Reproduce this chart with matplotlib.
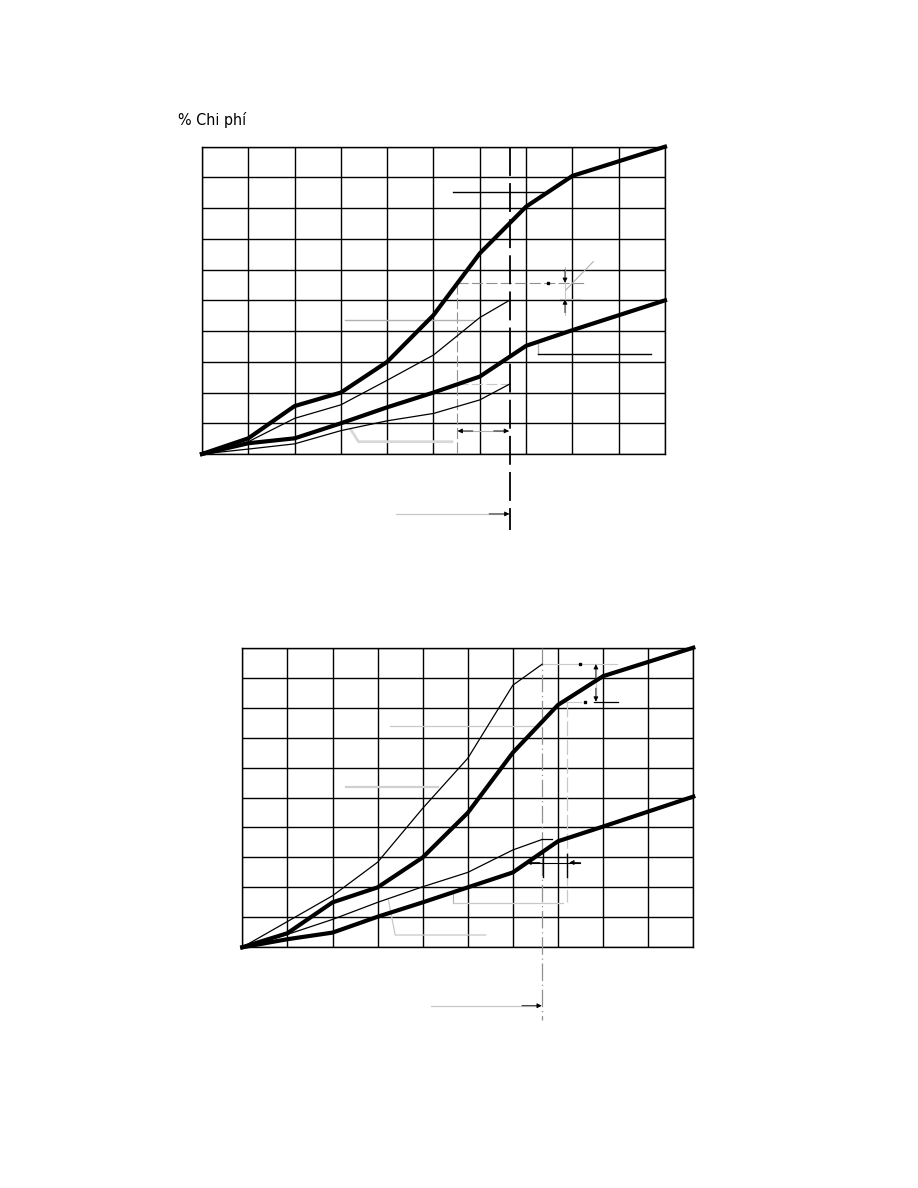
import matplotlib
matplotlib.use("Agg")
import matplotlib.pyplot as plt

# ---------------- data (grid units: 10 x 10 cells) ----------------
grid_ticks = list(range(11))

# top chart
top_thick_up_x = [0, 1, 2, 3, 4, 5, 6, 7, 8, 10]
top_thick_up_y = [0, 0.51, 1.56, 2.0, 3.0, 4.52, 6.53, 8.05, 9.05, 10.0]
top_thick_lo_x = [0, 1, 2, 3, 4, 5, 6, 7, 8, 10]
top_thick_lo_y = [0, 0.35, 0.51, 1.0, 1.52, 2.0, 2.52, 3.52, 4.03, 5.0]
top_thin_up_x = [0, 1, 2, 3, 4, 5, 6, 6.65]
top_thin_up_y = [0, 0.40, 1.16, 1.60, 2.40, 3.22, 4.44, 5.01]
top_thin_lo_x = [0, 1, 2, 3, 4, 5, 6, 6.65]
top_thin_lo_y = [0, 0.16, 0.33, 0.76, 1.08, 1.32, 1.76, 2.28]

# bottom chart
bot_thick_up_x = [0, 1, 2, 3, 4, 5, 6, 7, 8, 10]
bot_thick_up_y = [0, 0.47, 1.50, 2.0, 3.0, 4.49, 6.50, 8.09, 9.05, 10.0]
bot_thick_lo_x = [0, 1, 2, 3, 4, 5, 6, 7, 8, 10]
bot_thick_lo_y = [0, 0.27, 0.49, 1.02, 1.50, 2.0, 2.50, 3.54, 4.03, 5.03]
bot_thin_up_x = [0, 1, 2, 3, 4, 5, 6, 6.65]
bot_thin_up_y = [0, 0.86, 1.72, 2.84, 4.64, 6.31, 8.75, 9.45]
bot_thin_lo_x = [0, 1, 2, 3, 4, 5, 6, 6.65]
bot_thin_lo_y = [0, 0.43, 0.93, 1.50, 2.02, 2.50, 3.25, 3.60]

y_label = "% Chi phí"

# ---------------- figure ----------------
fig = plt.figure(figsize=(9.18, 11.88), dpi=100)

LG = "#b0b0b0"   # light gray for leaders
MG = "#909090"


def make_axes(rect):
    ax = fig.add_axes(rect)
    ax.set_xlim(0, 10)
    ax.set_ylim(0, 10)
    ax.set_xticks(grid_ticks)
    ax.set_yticks(grid_ticks)
    ax.tick_params(length=0, labelbottom=False, labelleft=False)
    ax.grid(True, color="black", lw=1.0)
    for s in ax.spines.values():
        s.set_color("black")
        s.set_linewidth(1.0)
    return ax


def line(ax, xs, ys, **kw):
    kw.setdefault("clip_on", False)
    ax.plot(xs, ys, **kw)


def head(ax, tip, frm):
    ax.annotate("", xy=tip, xytext=frm, annotation_clip=False,
                arrowprops=dict(arrowstyle="-|>", color="black", lw=0.6,
                                mutation_scale=7, shrinkA=0, shrinkB=0))


# ================= TOP CHART =================
ax1 = make_axes([202 / 918, 1 - 454 / 1188, 463 / 918, 307.3 / 1188])
ax1.plot(top_thick_up_x, top_thick_up_y, color="black", lw=3.0, zorder=5, clip_on=False)
ax1.plot(top_thick_lo_x, top_thick_lo_y, color="black", lw=3.0, zorder=5, clip_on=False)
ax1.plot(top_thin_up_x, top_thin_up_y, color="black", lw=0.9, zorder=5)
ax1.plot(top_thin_lo_x, top_thin_lo_y, color="black", lw=0.9, zorder=5)

# vertical dashed reference line
line(ax1, [6.65, 6.65], [10, -2.47], color="black", lw=1.3, dashes=(16, 4), zorder=4)
# gray dashed construction lines
line(ax1, [5.5, 5.5], [5.57, 0], color=MG, lw=0.8, dashes=(10, 3), zorder=3)
line(ax1, [5.5, 8.3], [5.57, 5.57], color=MG, lw=0.8, dashes=(10, 3), zorder=3)
line(ax1, [5.5, 6.65], [2.27, 2.27], color="#c8c8c8", lw=0.8, dashes=(10, 3), zorder=3)
# dimension arrow between the two verticals
line(ax1, [5.55, 6.6], [0.75, 0.75], color=LG, lw=0.8, zorder=3)
head(ax1, (5.52, 0.75), (5.85, 0.75))
head(ax1, (6.63, 0.75), (6.3, 0.75))
# leaders
line(ax1, [3.09, 5.9], [4.35, 4.35], color=LG, lw=1.0, zorder=3)
line(ax1, [5.43, 7.41], [8.52, 8.52], color="black", lw=1.0, zorder=3)
line(ax1, [7.26, 7.26], [3.58, 3.25], color=LG, lw=1.0, zorder=3)
line(ax1, [7.26, 9.69], [3.25, 3.25], color="black", lw=1.0, zorder=3)
line(ax1, [3.22, 3.38, 5.4], [0.78, 0.40, 0.40], color="#d8d8d8", lw=2.0, zorder=3)
# top-right small dimension
line(ax1, [7.73, 8.18], [5.03, 5.03], color=LG, lw=0.8, zorder=3)
line(ax1, [7.84, 7.84], [6.1, 4.52], color="#c8c8c8", lw=0.8, zorder=3)
head(ax1, (7.84, 5.57), (7.84, 6.0))
head(ax1, (7.84, 5.03), (7.84, 4.6))
line(ax1, [7.86, 8.45], [5.34, 6.26], color=LG, lw=0.8, zorder=3)
ax1.plot([7.48], [5.57], marker="s", ms=1.5, color="black", zorder=6)
# arrow below axis
line(ax1, [4.19, 6.55], [-1.95, -1.95], color="#c8c8c8", lw=0.9, zorder=3)
head(ax1, (6.64, -1.95), (6.2, -1.95))

fig.text(178 / 918, 1 - 125 / 1188, y_label, fontsize=11.5, fontstretch="condensed",
         family=["DejaVu Sans"], ha="left", va="baseline")

# ================= BOTTOM CHART =================
ax2 = make_axes([242.3 / 918, 1 - 947.3 / 1188, 451 / 918, 299.6 / 1188])
ax2.plot(bot_thick_up_x, bot_thick_up_y, color="black", lw=3.0, zorder=5, clip_on=False)
ax2.plot(bot_thick_lo_x, bot_thick_lo_y, color="black", lw=3.0, zorder=5, clip_on=False)
ax2.plot(bot_thin_up_x, bot_thin_up_y, color="black", lw=0.9, zorder=5)
ax2.plot(bot_thin_lo_x, bot_thin_lo_y, color="black", lw=0.9, zorder=5)

# vertical gray dash-dot reference line
line(ax2, [6.65, 6.65], [10, -2.42], color=MG, lw=0.9, dashes=(14, 3, 1, 3), zorder=3)
line(ax2, [7.19, 7.19], [8.2, 1.5], color="#c8c8c8", lw=0.9, dashes=(12, 3), zorder=3)
# leaders
line(ax2, [4.68, 4.68], [1.8, 1.49], color=LG, lw=0.8, zorder=3)
line(ax2, [4.68, 7.12], [1.49, 1.49], color="#c8c8c8", lw=0.9, zorder=3)
line(ax2, [3.27, 6.53], [7.39, 7.39], color="#c8c8c8", lw=0.9, zorder=3)
line(ax2, [2.31, 4.35], [5.36, 5.36], color="#d0d0d0", lw=1.6, zorder=3)
line(ax2, [3.24, 3.39, 5.4], [1.58, 0.41, 0.41], color="#c8c8c8", lw=0.9, zorder=3)
line(ax2, [6.65, 6.86], [3.6, 3.6], color="black", lw=0.9, zorder=5)
# top-right dimension
line(ax2, [6.65, 8.3], [9.45, 9.45], color="#c8c8c8", lw=0.8, zorder=3)
ax2.plot([7.49], [9.45], marker="s", ms=1.5, color="black", zorder=6)
line(ax2, [7.15, 7.5], [8.2, 8.2], color="#c8c8c8", lw=0.8, zorder=3)
ax2.plot([7.6], [8.2], marker="s", ms=1.5, color="black", zorder=6)
line(ax2, [7.8, 8.34], [8.2, 8.2], color="black", lw=0.9, zorder=3)
line(ax2, [7.84, 7.84], [9.4, 8.25], color="#c8c8c8", lw=0.9, zorder=3)
head(ax2, (7.84, 9.45), (7.84, 9.0))
head(ax2, (7.84, 8.2), (7.84, 8.65))
# small horizontal dimension
line(ax2, [6.67, 6.67], [3.14, 2.34], color="black", lw=1.0, zorder=4)
line(ax2, [7.19, 7.19], [3.1, 2.34], color="black", lw=1.0, zorder=4)
line(ax2, [6.3, 7.49], [2.83, 2.83], color="black", lw=0.8, zorder=4)
head(ax2, (6.3, 2.83), (6.6, 2.83))
head(ax2, (7.25, 2.83), (7.5, 2.83))
# arrow below axis
line(ax2, [4.18, 6.55], [-1.95, -1.95], color="#c8c8c8", lw=0.9, zorder=3)
head(ax2, (6.64, -1.95), (6.2, -1.95))

fig.savefig("out.png", dpi=100)
